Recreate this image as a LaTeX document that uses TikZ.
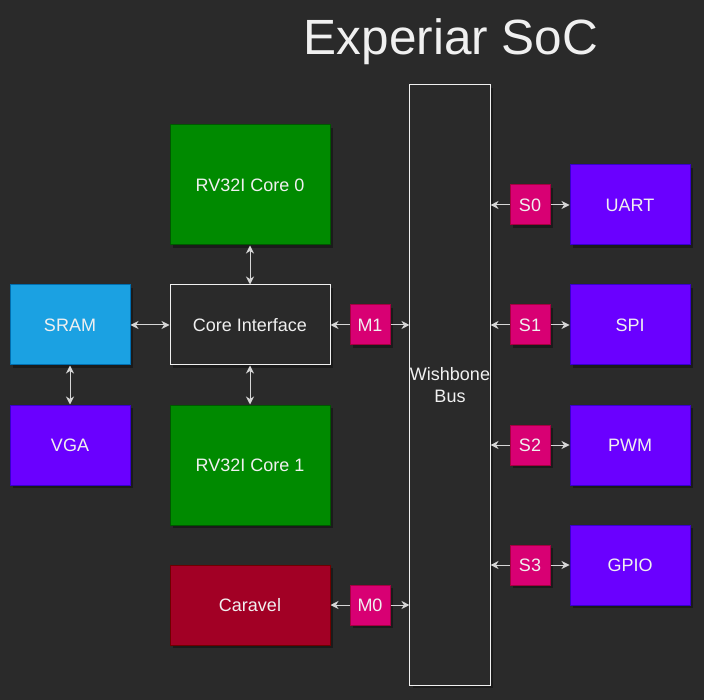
\documentclass[tikz,border=0pt]{standalone}
\usepackage{fontspec}
\setmainfont{Liberation Sans}
\usetikzlibrary{arrows.meta,shadows}
\definecolor{bg}{HTML}{2A2A2A}
\definecolor{txt}{HTML}{F0F0F0}
\definecolor{arr}{HTML}{D6D6D6}
\definecolor{cgreen}{HTML}{008A00}
\definecolor{cgreenb}{HTML}{005700}
\definecolor{cblue}{HTML}{1BA1E2}
\definecolor{cblueb}{HTML}{006EAF}
\definecolor{cviolet}{HTML}{6A00FF}
\definecolor{cvioletb}{HTML}{3700CC}
\definecolor{cpink}{HTML}{D80073}
\definecolor{cpinkb}{HTML}{A50040}
\definecolor{cred}{HTML}{A20025}
\definecolor{credb}{HTML}{6F0000}
\begin{document}
\begin{tikzpicture}[x=1pt,y=-1pt,
  box/.style={draw, line width=1pt, inner sep=0pt, text=txt, align=center,
    font=\fontsize{18}{22.5}\selectfont,
    drop shadow={shadow xshift=3pt, shadow yshift=-3pt, fill=black, opacity=0.35}},
  bigbox/.style={box, minimum width=160pt, minimum height=120pt},
  midbox/.style={box, minimum width=160pt, minimum height=80pt},
  smallbox/.style={box, minimum width=120pt, minimum height=80pt},
  tag/.style={box, minimum width=40pt, minimum height=40pt, fill=cpink, draw=cpinkb},
  periph/.style={smallbox, fill=cviolet, draw=cvioletb},
  biarr/.style={draw=arr, line width=1pt, {Stealth[length=8pt,width=8pt,inset=2.5pt]}-{Stealth[length=8pt,width=8pt,inset=2.5pt]}},
  onearr/.style={draw=arr, line width=1pt, -{Stealth[length=8pt,width=8pt,inset=2.5pt]}}
]
\fill[bg] (0,0) rectangle (704,700);
\useasboundingbox (0,0) rectangle (704,700);

\node[text=txt, font=\fontsize{49.5}{58}\selectfont] (title) at (451,42) {Experiar SoC};

\node[bigbox, fill=cgreen, draw=cgreenb] (c0) at (250,185) {RV32I Core 0};
\node[midbox, fill=bg, draw=txt] (ci) at (250,325) {Core Interface};
\node[bigbox, fill=cgreen, draw=cgreenb] (c1) at (250,465) {RV32I Core 1};
\node[midbox, fill=cred, draw=credb] (car) at (250,605) {Caravel};
\node[smallbox, fill=cblue, draw=cblueb] (sram) at (70,325) {SRAM};
\node[smallbox, fill=cviolet, draw=cvioletb] (vga) at (70,445) {VGA};
\node[tag] (m1) at (370,325) {M1};
\node[tag] (m0) at (370,605) {M0};
\node[box, fill=bg, draw=txt, minimum width=80pt, minimum height=600pt] (bus) at (450,385) {Wishbone\\Bus};

\node[tag] (s0) at (530,205) {S0};
\node[tag] (s1) at (530,325) {S1};
\node[tag] (s2) at (530,445) {S2};
\node[tag] (s3) at (530,565) {S3};
\node[periph] (uart) at (630,205) {UART};
\node[periph] (spi) at (630,325) {SPI};
\node[periph] (pwm) at (630,445) {PWM};
\node[periph] (gpio) at (630,565) {GPIO};

\draw[biarr] (c0) -- (ci);
\draw[biarr] (ci) -- (c1);
\draw[biarr] (sram) -- (ci);
\draw[biarr] (sram) -- (vga);
\draw[onearr] (m1) -- (ci);
\draw[onearr] (m1) -- (m1 -| bus.west);
\draw[onearr] (m0) -- (car);
\draw[onearr] (m0) -- (m0 -| bus.west);
\foreach \s/\p in {s0/uart, s1/spi, s2/pwm, s3/gpio}{
  \draw[onearr] (\s) -- (\s -| bus.east);
  \draw[onearr] (\s) -- (\p);
}
\end{tikzpicture}
\end{document}
